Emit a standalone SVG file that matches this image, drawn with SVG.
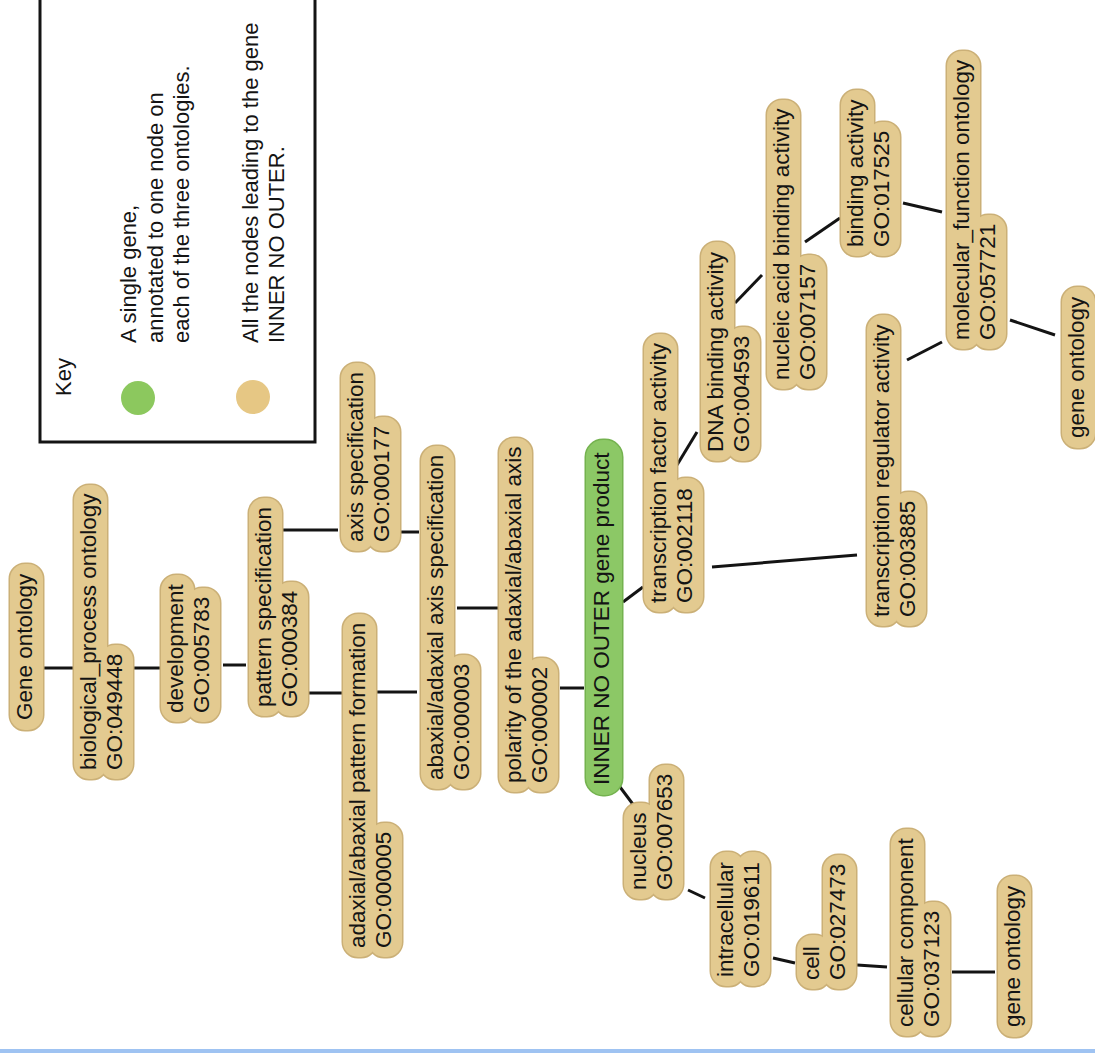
<svg xmlns="http://www.w3.org/2000/svg" width="1095" height="1053" viewBox="0 0 1095 1053">
<style>
.t{font-family:"Liberation Sans",Arial,Helvetica,sans-serif;font-size:22.5px;fill:#141414}
.k{font-family:"Liberation Sans",Arial,Helvetica,sans-serif;font-size:22px;fill:#141414}
.o{fill:none;stroke:#cbb077;stroke-width:3}
.f{fill:#e3ca90}
.go{fill:none;stroke:#74b24f;stroke-width:3}
.gf{fill:#8cc866}
.e{stroke:#141414;stroke-width:3;fill:none;stroke-linecap:butt}
</style>
<rect x="0" y="0" width="1095" height="1053" fill="#ffffff"/>
<rect x="0" y="1049" width="1095" height="4" fill="#9fc3f2"/>

<g id="key">
 <rect x="40" y="-10" width="275" height="452" fill="none" stroke="#141414" stroke-width="3"/>
 <text class="k" font-size="24" transform="translate(71,396) rotate(-90)">Key</text>
 <circle cx="138" cy="398" r="17" fill="#8cc85e"/>
 <circle cx="253" cy="397" r="17" fill="#e6c784"/>
 <text class="k" transform="translate(136,343) rotate(-90)"><tspan x="0" y="0">A single gene,</tspan><tspan x="0" y="26.5">annotated to one node on</tspan><tspan x="0" y="53">each of the three ontologies.</tspan></text>
 <text class="k" transform="translate(258,343) rotate(-90)"><tspan x="0" y="0">All the nodes leading to the gene</tspan><tspan x="0" y="26">INNER NO OUTER.</tspan></text>
</g>

<g id="connectors">
 <line class="e" x1="43" y1="668" x2="75" y2="668"/>
 <line class="e" x1="133" y1="668" x2="162" y2="668"/>
 <line class="e" x1="223" y1="665" x2="246" y2="665"/>
 <line class="e" x1="283" y1="530" x2="338" y2="530"/>
 <line class="e" x1="305" y1="693" x2="342" y2="693"/>
 <line class="e" x1="373" y1="692" x2="417" y2="692"/>
 <line class="e" x1="397" y1="532" x2="419" y2="532"/>
 <line class="e" x1="457" y1="608" x2="500" y2="608"/>
 <line class="e" x1="560" y1="688" x2="584" y2="688"/>
 <line class="e" x1="623" y1="602" x2="643" y2="587"/>
 <line class="e" x1="677" y1="465" x2="697" y2="432"/>
 <line class="e" x1="712" y1="567" x2="857" y2="555"/>
 <line class="e" x1="735" y1="303" x2="762" y2="275"/>
 <line class="e" x1="805" y1="242" x2="840" y2="218"/>
 <line class="e" x1="903" y1="203" x2="942" y2="212"/>
 <line class="e" x1="1010" y1="320" x2="1055" y2="335"/>
 <line class="e" x1="907" y1="360" x2="942" y2="342"/>
 <line class="e" x1="620" y1="787" x2="635" y2="807"/>
 <line class="e" x1="688" y1="890" x2="705" y2="898"/>
 <line class="e" x1="773" y1="958" x2="795" y2="963"/>
 <line class="e" x1="857" y1="965" x2="887" y2="967"/>
 <line class="e" x1="952" y1="972" x2="995" y2="972"/>
</g>

<g id="n-gene-ontology-bp" transform="translate(32,720) rotate(-90)">
 <rect class="o" x="-10" y="-22" width="166" height="33" rx="15"/>
 <rect class="f" x="-10" y="-22" width="166" height="33" rx="15"/>
 <text class="t"><tspan x="0" y="0">Gene ontology</tspan></text>
</g>

<g id="n-biological-process" transform="translate(96,770) rotate(-90)">
 <rect class="o" x="-9" y="-22" width="294" height="33" rx="15"/>
 <rect class="o" x="-9" y="4" width="134" height="33" rx="15"/>
 <rect class="f" x="-9" y="-22" width="294" height="33" rx="15"/>
 <rect class="f" x="-9" y="4" width="134" height="33" rx="15"/>
 <text class="t"><tspan x="0" y="0">biological_process ontology</tspan><tspan x="0" y="26">GO:049448</tspan></text>
</g>

<g id="n-development" transform="translate(183,713) rotate(-90)">
 <rect class="o" x="-9" y="-22" width="147" height="33" rx="15"/>
 <rect class="o" x="-9" y="4" width="134" height="33" rx="15"/>
 <rect class="f" x="-9" y="-22" width="147" height="33" rx="15"/>
 <rect class="f" x="-9" y="4" width="134" height="33" rx="15"/>
 <text class="t"><tspan x="0" y="0">development</tspan><tspan x="0" y="26">GO:005783</tspan></text>
</g>

<g id="n-pattern-specification" transform="translate(271,707) rotate(-90)">
 <rect class="o" x="-9" y="-22" width="218" height="33" rx="15"/>
 <rect class="o" x="-9" y="4" width="134" height="33" rx="15"/>
 <rect class="f" x="-9" y="-22" width="218" height="33" rx="15"/>
 <rect class="f" x="-9" y="4" width="134" height="33" rx="15"/>
 <text class="t"><tspan x="0" y="0">pattern specification</tspan><tspan x="0" y="26">GO:000384</tspan></text>
</g>

<g id="n-axis-specification" transform="translate(363,542) rotate(-90)">
 <rect class="o" x="-9" y="-22" width="188" height="33" rx="15"/>
 <rect class="o" x="-9" y="4" width="134" height="33" rx="15"/>
 <rect class="f" x="-9" y="-22" width="188" height="33" rx="15"/>
 <rect class="f" x="-9" y="4" width="134" height="33" rx="15"/>
 <text class="t"><tspan x="0" y="0">axis specification</tspan><tspan x="0" y="26">GO:000177</tspan></text>
</g>

<g id="n-pattern-formation" transform="translate(365,948) rotate(-90)">
 <rect class="o" x="-9" y="-22" width="343" height="33" rx="15"/>
 <rect class="o" x="-9" y="4" width="134" height="33" rx="15"/>
 <rect class="f" x="-9" y="-22" width="343" height="33" rx="15"/>
 <rect class="f" x="-9" y="4" width="134" height="33" rx="15"/>
 <text class="t"><tspan x="0" y="0">adaxial/abaxial pattern formation</tspan><tspan x="0" y="26">GO:000005</tspan></text>
</g>

<g id="n-axis-spec-abaxial" transform="translate(443,780) rotate(-90)">
 <rect class="o" x="-9" y="-22" width="343" height="33" rx="15"/>
 <rect class="o" x="-9" y="4" width="134" height="33" rx="15"/>
 <rect class="f" x="-9" y="-22" width="343" height="33" rx="15"/>
 <rect class="f" x="-9" y="4" width="134" height="33" rx="15"/>
 <text class="t"><tspan x="0" y="0">abaxial/adaxial axis specification</tspan><tspan x="0" y="26">GO:000003</tspan></text>
</g>

<g id="n-polarity" transform="translate(521,783) rotate(-90)">
 <rect class="o" x="-9" y="-22" width="354" height="33" rx="15"/>
 <rect class="o" x="-9" y="4" width="134" height="33" rx="15"/>
 <rect class="f" x="-9" y="-22" width="354" height="33" rx="15"/>
 <rect class="f" x="-9" y="4" width="134" height="33" rx="15"/>
 <text class="t"><tspan x="0" y="0">polarity of the adaxial/abaxial axis</tspan><tspan x="0" y="26">GO:000002</tspan></text>
</g>

<g id="n-inner-no-outer" transform="translate(609,785) rotate(-90)">
 <rect class="go" x="-10" y="-23" width="355" height="36" rx="17"/>
 <rect class="gf" x="-10" y="-23" width="355" height="36" rx="17"/>
 <text class="t"><tspan x="0" y="0">INNER NO OUTER gene product</tspan></text>
</g>

<g id="n-transcription-factor" transform="translate(666,603) rotate(-90)">
 <rect class="o" x="-9" y="-22" width="278" height="33" rx="15"/>
 <rect class="o" x="-9" y="4" width="134" height="33" rx="15"/>
 <rect class="f" x="-9" y="-22" width="278" height="33" rx="15"/>
 <rect class="f" x="-9" y="4" width="134" height="33" rx="15"/>
 <text class="t"><tspan x="0" y="0">transcription factor activity</tspan><tspan x="0" y="26">GO:002118</tspan></text>
</g>

<g id="n-dna-binding" transform="translate(723,452) rotate(-90)">
 <rect class="o" x="-9" y="-22" width="219" height="33" rx="15"/>
 <rect class="o" x="-9" y="4" width="134" height="33" rx="15"/>
 <rect class="f" x="-9" y="-22" width="219" height="33" rx="15"/>
 <rect class="f" x="-9" y="4" width="134" height="33" rx="15"/>
 <text class="t"><tspan x="0" y="0">DNA binding activity</tspan><tspan x="0" y="26">GO:004593</tspan></text>
</g>

<g id="n-nucleic-acid-binding" transform="translate(789,380) rotate(-90)">
 <rect class="o" x="-9" y="-22" width="289" height="33" rx="15"/>
 <rect class="o" x="-9" y="4" width="134" height="33" rx="15"/>
 <rect class="f" x="-9" y="-22" width="289" height="33" rx="15"/>
 <rect class="f" x="-9" y="4" width="134" height="33" rx="15"/>
 <text class="t"><tspan x="0" y="0">nucleic acid binding activity</tspan><tspan x="0" y="26">GO:007157</tspan></text>
</g>

<g id="n-binding-activity" transform="translate(863,247) rotate(-90)">
 <rect class="o" x="-9" y="-22" width="166" height="33" rx="15"/>
 <rect class="o" x="-9" y="4" width="134" height="33" rx="15"/>
 <rect class="f" x="-9" y="-22" width="166" height="33" rx="15"/>
 <rect class="f" x="-9" y="4" width="134" height="33" rx="15"/>
 <text class="t"><tspan x="0" y="0">binding activity</tspan><tspan x="0" y="26">GO:017525</tspan></text>
</g>

<g id="n-molecular-function" transform="translate(969,340) rotate(-90)">
 <rect class="o" x="-9" y="-22" width="298" height="33" rx="15"/>
 <rect class="o" x="-9" y="4" width="134" height="33" rx="15"/>
 <rect class="f" x="-9" y="-22" width="298" height="33" rx="15"/>
 <rect class="f" x="-9" y="4" width="134" height="33" rx="15"/>
 <text class="t"><tspan x="0" y="0">molecular_function ontology</tspan><tspan x="0" y="26">GO:057721</tspan></text>
</g>

<g id="n-gene-ontology-mf" transform="translate(1084,438) rotate(-90)">
 <rect class="o" x="-10" y="-22" width="161" height="33" rx="15"/>
 <rect class="f" x="-10" y="-22" width="161" height="33" rx="15"/>
 <text class="t"><tspan x="0" y="0">gene ontology</tspan></text>
</g>

<g id="n-transcription-regulator" transform="translate(889,617) rotate(-90)">
 <rect class="o" x="-9" y="-22" width="311" height="33" rx="15"/>
 <rect class="o" x="-9" y="4" width="134" height="33" rx="15"/>
 <rect class="f" x="-9" y="-22" width="311" height="33" rx="15"/>
 <rect class="f" x="-9" y="4" width="134" height="33" rx="15"/>
 <text class="t"><tspan x="0" y="0">transcription regulator activity</tspan><tspan x="0" y="26">GO:003885</tspan></text>
</g>

<g id="n-nucleus" transform="translate(646,890) rotate(-90)">
 <rect class="o" x="-9" y="-22" width="96" height="33" rx="15"/>
 <rect class="o" x="-9" y="4" width="134" height="33" rx="15"/>
 <rect class="f" x="-9" y="-22" width="96" height="33" rx="15"/>
 <rect class="f" x="-9" y="4" width="134" height="33" rx="15"/>
 <text class="t"><tspan x="0" y="0">nucleus</tspan><tspan x="0" y="26">GO:007653</tspan></text>
</g>

<g id="n-intracellular" transform="translate(733,977) rotate(-90)">
 <rect class="o" x="-9" y="-22" width="134" height="33" rx="15"/>
 <rect class="o" x="-9" y="4" width="134" height="33" rx="15"/>
 <rect class="f" x="-9" y="-22" width="134" height="33" rx="15"/>
 <rect class="f" x="-9" y="4" width="134" height="33" rx="15"/>
 <text class="t"><tspan x="0" y="0">intracellular</tspan><tspan x="0" y="26">GO:019611</tspan></text>
</g>

<g id="n-cell" transform="translate(819,980) rotate(-90)">
 <rect class="o" x="-9" y="-22" width="54" height="33" rx="15"/>
 <rect class="o" x="-9" y="4" width="134" height="33" rx="15"/>
 <rect class="f" x="-9" y="-22" width="54" height="33" rx="15"/>
 <rect class="f" x="-9" y="4" width="134" height="33" rx="15"/>
 <text class="t"><tspan x="0" y="0">cell</tspan><tspan x="0" y="26">GO:027473</tspan></text>
</g>

<g id="n-cellular-component" transform="translate(913,1027) rotate(-90)">
 <rect class="o" x="-9" y="-22" width="207" height="33" rx="15"/>
 <rect class="o" x="-9" y="4" width="134" height="33" rx="15"/>
 <rect class="f" x="-9" y="-22" width="207" height="33" rx="15"/>
 <rect class="f" x="-9" y="4" width="134" height="33" rx="15"/>
 <text class="t"><tspan x="0" y="0">cellular component</tspan><tspan x="0" y="26">GO:037123</tspan></text>
</g>

<g id="n-gene-ontology-cc" transform="translate(1020,1027) rotate(-90)">
 <rect class="o" x="-10" y="-22" width="161" height="33" rx="15"/>
 <rect class="f" x="-10" y="-22" width="161" height="33" rx="15"/>
 <text class="t"><tspan x="0" y="0">gene ontology</tspan></text>
</g>
</svg>
